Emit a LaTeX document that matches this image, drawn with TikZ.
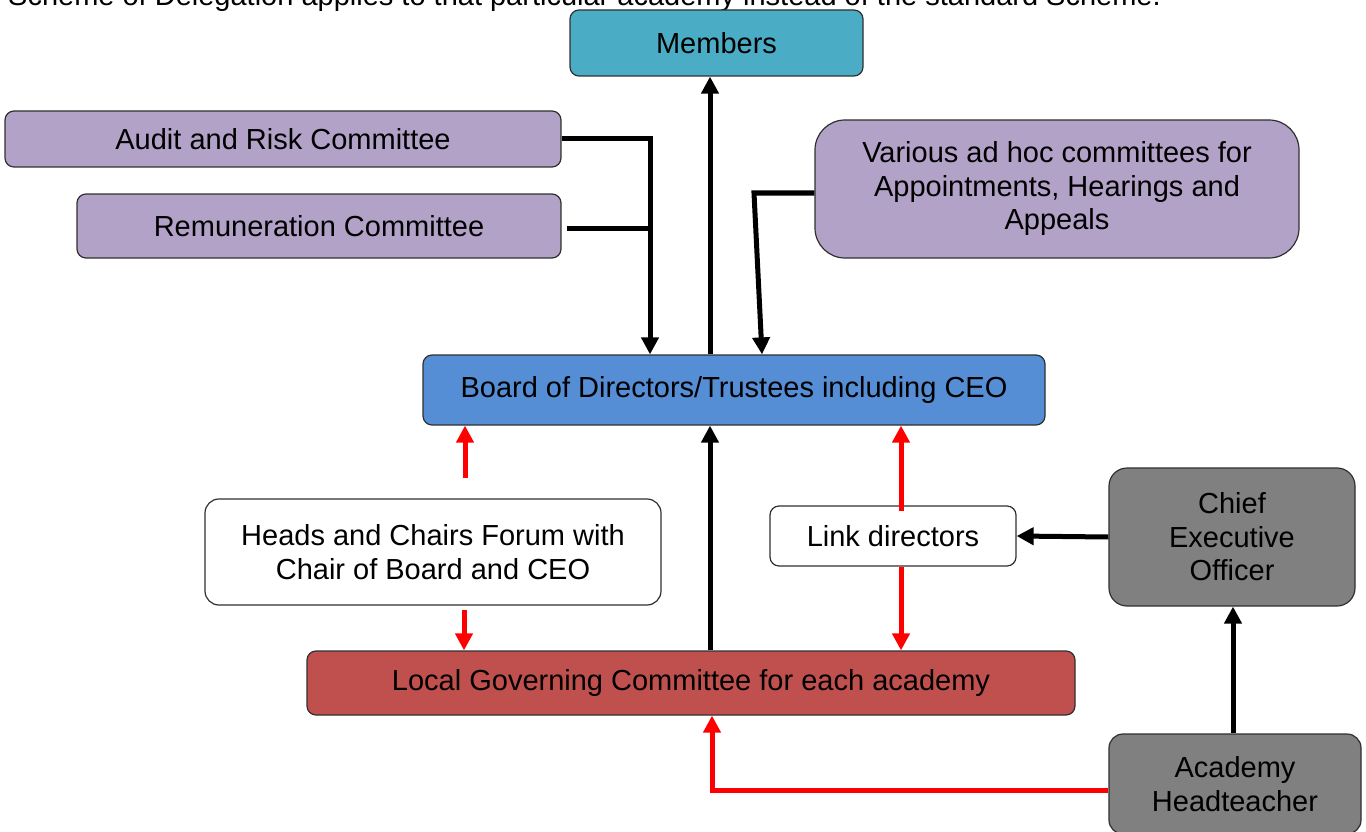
\documentclass[tikz,border=0pt]{standalone}
\usepackage{fontspec}
\setmainfont{Liberation Sans}
\usetikzlibrary{arrows.meta}
\definecolor{cteal}{HTML}{4BACC6}
\definecolor{clav}{HTML}{B2A2C7}
\definecolor{cblue}{HTML}{558ED5}
\definecolor{cbrick}{HTML}{C0504D}
\definecolor{cgray}{HTML}{808080}
\definecolor{cedge}{HTML}{303030}
\begin{document}
\begin{tikzpicture}[x=1pt,y=-1pt,
  box/.style={draw=cedge, line width=1.2pt, rounded corners=9pt, font=\fontsize{29}{33.5}\selectfont, align=center, inner sep=0pt},
  blk/.style={line width=5pt, black, -{Triangle[length=17pt,width=17pt]}},
  blkline/.style={line width=5pt, black},
  redarr/.style={line width=5pt, color={rgb,255:red,255;green,0;blue,0}, -{Triangle[length=17pt,width=17pt]}}]
\useasboundingbox (0,0) rectangle (1366,832);
\node[anchor=base west, font=\fontsize{29}{33.5}\selectfont, inner sep=0pt] (caption) at (8,6) {Scheme of Delegation applies to that particular academy instead of the standard Scheme.};
\node[box, fill=cteal, minimum width=293pt, minimum height=66pt] (members) at (716.5,43) {Members};
\node[box, fill=clav, minimum width=556pt, minimum height=56pt] (audit) at (283,139) {Audit and Risk Committee};
\node[box, fill=clav, minimum width=484pt, minimum height=64pt] (rem) at (319,226) {Remuneration Committee};
\node[box, fill=clav, rounded corners=30pt, minimum width=484pt, minimum height=138pt] (adhoc) at (1057,189) {Various ad hoc committees for\\Appointments, Hearings and\\Appeals};
\node[box, fill=cblue, minimum width=622pt, minimum height=70pt] (board) at (734,390) {Board of Directors/Trustees including CEO};
\node[box, fill=white, rounded corners=14pt, minimum width=456pt, minimum height=106pt] (heads) at (433,552) {Heads and Chairs Forum with\\Chair of Board and CEO};
\node[box, fill=white, minimum width=246pt, minimum height=60pt] (link) at (893,536) {Link directors};
\node[box, fill=cgray, rounded corners=18pt, minimum width=246pt, minimum height=138pt] (ceo) at (1232,537) {Chief\\Executive\\Officer};
\node[box, fill=cbrick, minimum width=768pt, minimum height=64pt] (lgc) at (691,683) {Local Governing Committee for each academy};
\node[box, fill=cgray, rounded corners=14pt, minimum width=252pt, minimum height=100pt] (ht) at (1235,784) {Academy\\Headteacher};
% helper coordinates
\coordinate (x710) at (710,0);
\coordinate (j1) at (650,139);
\coordinate (k1) at (754,193);
\coordinate (k2) at (762,0);
\coordinate (r1) at (465,478);
\coordinate (r2) at (464,610);
\coordinate (x901) at (901,0);
\coordinate (x1233) at (1233,0);
\coordinate (c790) at (712,790);
% black connectors
\draw[blk] (board.north -| x710) -- (members.south -| x710);
\draw[blk] (audit.east |- j1) -| (board.north -| j1);
\draw[blkline] ([xshift=5pt]rem.east |- 0,228) -- (j1 |- 0,228);
\draw[blk] (adhoc.west |- k1) -- (k1) -- (board.north -| k2);
\draw[blk] (lgc.north -| x710) -- (board.south -| x710);
\draw[blk] (ceo.west) -- (link.east);
\draw[blk] (ht.north -| x1233) -- (ceo.south -| x1233);
% red connectors
\draw[redarr] (r1) -- (board.south -| r1);
\draw[redarr] (r2) -- (lgc.north -| r2);
\draw[redarr] ([yshift=-6pt]link.north -| x901) -- (board.south -| x901);
\draw[redarr] (link.south -| x901) -- (lgc.north -| x901);
\draw[redarr] (ht.west |- c790) -| (lgc.south -| c790);
\end{tikzpicture}
\end{document}
